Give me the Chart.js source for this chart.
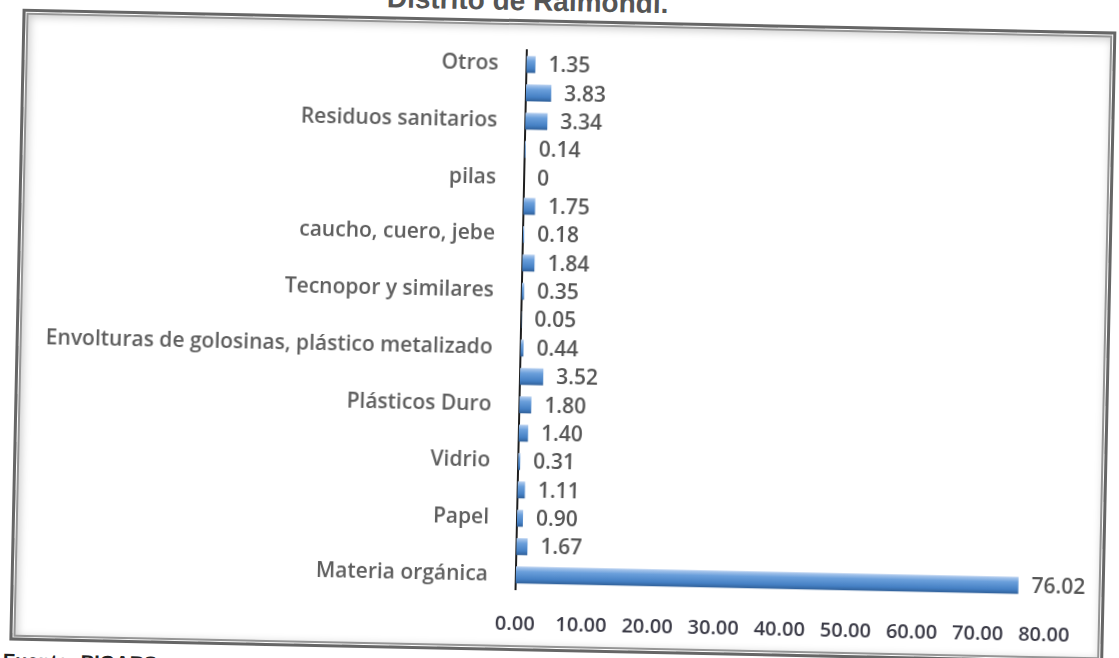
<!DOCTYPE html>
<html>
<head>
<meta charset="utf-8">
<script src="https://cdn.jsdelivr.net/npm/chart.js@4.4.0/dist/chart.umd.min.js"></script>
<style>
    html, body { margin: 0; padding: 0; background: #fff; overflow: hidden; }
    #page { position: relative; width: 1119px; height: 658px; transform: rotate(1.2deg); transform-origin: 50% 50%; }
    #frame {
        position: absolute; left: 16px; top: 20px; width: 1094px; height: 632px; box-sizing: border-box;
        border: 3px solid #666;
        box-shadow: inset 0 0 0 1px #fff, inset 0 0 0 3px #959595, inset 2px 2px 9px 3px #cbcbcb;
    }
    #title { position: absolute; left: 380px; top: -14px; line-height: 28px; font: bold 28px "Liberation Sans", Arial, sans-serif; color: #555; white-space: nowrap; }
    #source { position: absolute; left: 10px; top: 661px; font: bold 20px "Liberation Sans", Arial, sans-serif; color: #222; white-space: nowrap; }
    #chartBox { position: absolute; left: 0; top: 0; }
</style>
</head>
<body>
<div id="page">
    <div id="title">Distrito de Raimondi.</div>
    <div id="frame"></div>
    <canvas id="chartBox" width="1119" height="658"></canvas>
    <div id="source">Fuente: PIGARS</div>
</div>
<script>
// categorias de arriba hacia abajo (solo una de cada dos lleva nombre en el grafico)
const categorias = [
    'Otros', '', 'Residuos sanitarios', '', 'pilas', '', 'caucho, cuero, jebe', '',
    'Tecnopor y similares', '', 'Envolturas de golosinas, plástico metalizado', '',
    'Plásticos Duro', '', 'Vidrio', '', 'Papel', '', 'Materia orgánica'
];
const porcentajes = [1.35, 3.83, 3.34, 0.14, 0, 1.75, 0.18, 1.84, 0.35, 0.05, 0.44, 3.52, 1.80, 1.40, 0.31, 1.11, 0.90, 1.67, 76.02];
const ejeX = { min: 0, max: 80, paso: 10 };

const fuente = '"Open Sans", "Liberation Sans", sans-serif';

function rellenoBarra(context) {
    const chart = context.chart;
    const y = chart.scales.y;
    if (!chart.chartArea || !y) return '#4f81bd';
    const c = y.getPixelForValue(context.dataIndex);
    const g = chart.ctx.createLinearGradient(0, c - 8.5, 0, c + 8.5);
    g.addColorStop(0, '#b3cdef');
    g.addColorStop(0.3, '#6a9fdb');
    g.addColorStop(0.75, '#4580c4');
    g.addColorStop(1, '#2f5f98');
    return g;
}

const etiquetasValor = {
    id: 'etiquetasValor',
    afterDatasetsDraw(chart) {
        const ctx = chart.ctx;
        const meta = chart.getDatasetMeta(0);
        ctx.save();
        ctx.font = '600 21px ' + fuente;
        ctx.fillStyle = '#555';
        ctx.textBaseline = 'middle';
        ctx.textAlign = 'left';
        meta.data.forEach((bar, i) => {
            const v = porcentajes[i];
            ctx.fillText(v === 0 ? '0' : v.toFixed(2), bar.x + 13, bar.y + 1);
        });
        ctx.restore();
    }
};

new Chart(document.getElementById('chartBox').getContext('2d'), {
    type: 'bar',
    data: {
        labels: categorias,
        datasets: [{
            data: porcentajes,
            backgroundColor: rellenoBarra,
            borderWidth: 0,
            categoryPercentage: 0.62,
            barPercentage: 0.96
        }]
    },
    options: {
        indexAxis: 'y',
        responsive: false,
        animation: false,
        devicePixelRatio: 1,
        layout: { padding: { left: 0, top: 51, right: 69, bottom: 0 } },
        plugins: { legend: { display: false }, tooltip: { enabled: true } },
        scales: {
            x: {
                min: ejeX.min, max: ejeX.max,
                grid: { display: false },
                border: { display: false },
                ticks: {
                    stepSize: ejeX.paso,
                    padding: 15,
                    color: '#3a3a46',
                    font: { family: fuente, size: 20, weight: '600' },
                    callback: (v) => Number(v).toFixed(2)
                },
                afterFit: (s) => { s.height = 68; }
            },
            y: {
                grid: { display: false },
                border: { display: true, color: '#1e1e1e', width: 2 },
                ticks: {
                    autoSkip: false,
                    padding: 20,
                    color: '#5e5e5e',
                    font: { family: fuente, size: 21, weight: '600' }
                },
                afterFit: (s) => { s.width = 521; }
            }
        }
    },
    plugins: [etiquetasValor]
});
</script>
</body>
</html>
